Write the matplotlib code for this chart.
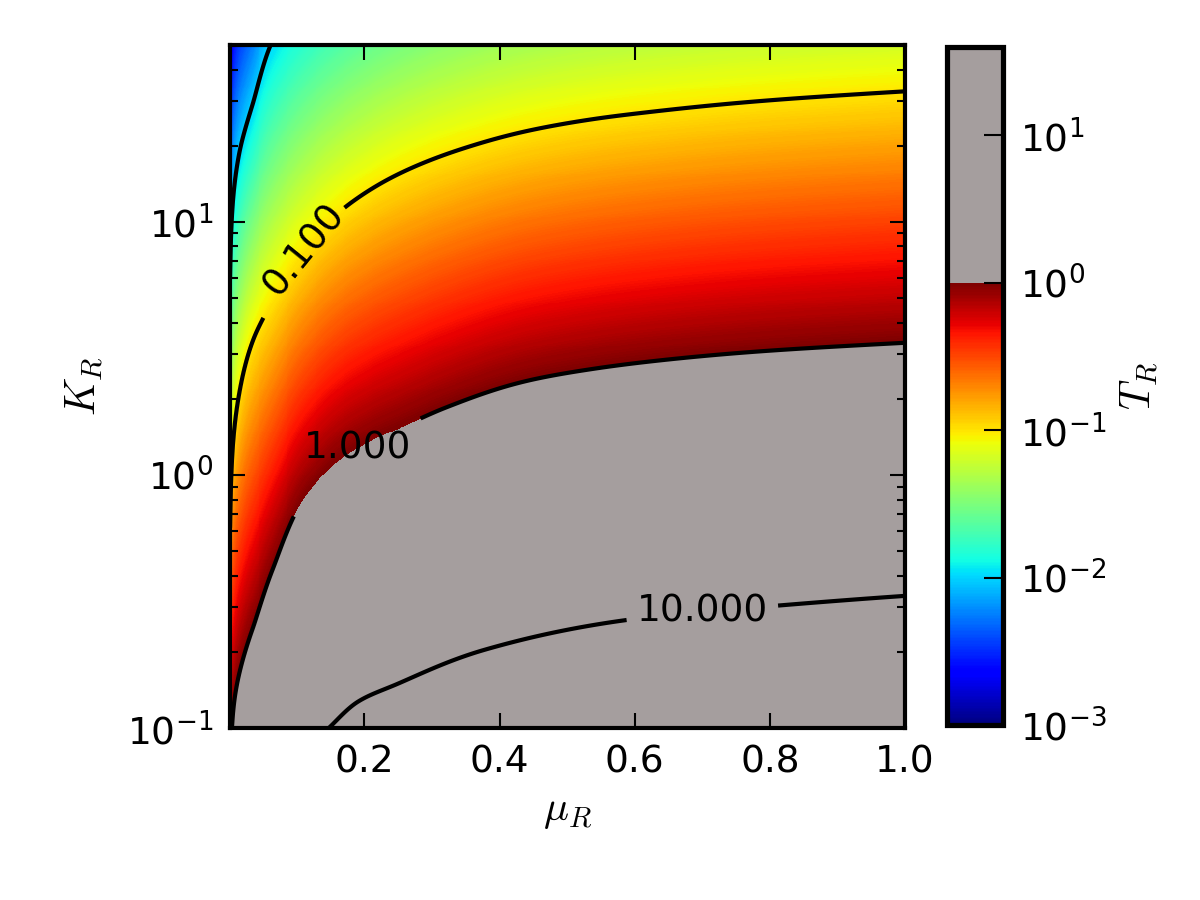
import numpy as np
import matplotlib
matplotlib.use('Agg')
import matplotlib.pyplot as plt
from matplotlib.colors import ListedColormap, LogNorm

plt.rcParams['font.family'] = 'DejaVu Sans'
plt.rcParams['mathtext.fontset'] = 'cm'
plt.rcParams['font.size'] = 16

# contour positions: (mu_R, K_R) where T_R equals each level
# (points above K=50 or below K=0.1 are estimates beyond the visible window)
levels = [0.01, 0.1, 1.0, 10.0]

mu_t001 = [0.0042, 0.014, 0.034, 0.061, 0.1, 0.2, 0.4, 0.6, 1.0]
k_t001 = [11.0, 18.3, 28.9, 49.9, 75.0, 127.0, 210.0, 263.0, 328.0]

mu_t01 = [0.0042, 0.014, 0.036, 0.056, 0.180, 0.247, 0.346, 0.445, 0.544,
          0.623, 0.771, 1.0]
k_t01 = [1.19, 2.06, 3.46, 4.47, 11.9, 15.3, 19.5, 23.0, 25.6,
         27.2, 29.8, 32.8]

mu_t1 = [0.0042, 0.034, 0.064, 0.108, 0.133, 0.158, 0.207, 0.256, 0.321, 0.445,
         0.544, 0.623, 0.771, 1.0]
k_t1 = [0.104, 0.245, 0.423, 0.79, 0.96, 1.12, 1.35, 1.55, 1.85, 2.37,
        2.64, 2.81, 3.06, 3.33]

mu_t10 = [0.0042, 0.034, 0.064, 0.108, 0.147, 0.19, 0.25, 0.378, 0.6, 0.8, 1.0]
k_t10 = [0.0104, 0.0245, 0.042, 0.079, 0.1, 0.127, 0.15, 0.204, 0.27, 0.303, 0.333]

# contour label spots (mu_R, K_R)
label_spots = [(0.115, 7.6), (0.189, 1.27), (0.70, 0.288)]

mu_lim = (0.001, 1.0)
k_lim = (0.1, 50.0)
cbar_ticks = [1e-3, 1e-2, 1e-1, 1e0, 1e1]
gray = '#a59e9e'


def pchip(x, xp, fp):
    # monotone cubic through the read points (keeps contours smooth)
    xp = np.asarray(xp, float)
    fp = np.asarray(fp, float)
    h = np.diff(xp)
    d = np.diff(fp) / h
    m = np.zeros_like(fp)
    for i in range(1, len(fp) - 1):
        if d[i - 1] * d[i] > 0:
            w1 = 2 * h[i] + h[i - 1]
            w2 = h[i] + 2 * h[i - 1]
            m[i] = (w1 + w2) / (w1 / d[i - 1] + w2 / d[i])
    m[0] = d[0]
    m[-1] = d[-1]
    xc = np.clip(x, xp[0], xp[-1])
    idx = np.clip(np.searchsorted(xp, xc) - 1, 0, len(h) - 1)
    t = (xc - xp[idx]) / h[idx]
    h00 = 2 * t**3 - 3 * t**2 + 1
    h10 = t**3 - 2 * t**2 + t
    h01 = -2 * t**3 + 3 * t**2
    h11 = t**3 - t**2
    y = h00 * fp[idx] + h10 * h[idx] * m[idx] + h01 * fp[idx + 1] + h11 * h[idx] * m[idx + 1]
    # linear continuation left of the first point
    lo = x < xp[0]
    y[lo] = fp[0] + (x[lo] - xp[0]) * m[0]
    return y


def interp_ext(x, xp, fp):
    y = np.interp(x, xp, fp)
    lo = x < xp[0]
    hi = x > xp[-1]
    y[lo] = fp[0] + (x[lo] - xp[0]) * (fp[1] - fp[0]) / (xp[1] - xp[0])
    y[hi] = fp[-1] + (x[hi] - xp[-1]) * (fp[-1] - fp[-2]) / (xp[-1] - xp[-2])
    return y


def build_field():
    mu = np.linspace(mu_lim[0], mu_lim[1], 700)
    k = np.logspace(np.log10(k_lim[0]), np.log10(k_lim[1]), 700)
    lm = np.log10(mu)
    lk = np.log10(k)
    curves = [(mu_t001, k_t001), (mu_t01, k_t01), (mu_t1, k_t1), (mu_t10, k_t10)]
    logk_at = np.array([pchip(lm, np.log10(m), np.log10(kk)) for m, kk in curves])
    logt_lv = np.log10(levels)
    T = np.empty((len(k), len(mu)))
    for j in range(len(mu)):
        xp = logk_at[::-1, j]
        fp = logt_lv[::-1]
        T[:, j] = 10 ** interp_ext(lk, xp, fp)
    return mu, k, T


def make_cmap():
    n_jet = 300
    n_gray = 160
    jet = plt.get_cmap('jet')
    cols = np.vstack([jet(np.linspace(0, 1, n_jet)),
                      np.tile(matplotlib.colors.to_rgba(gray), (n_gray, 1))])
    vmax = 10 ** (-3 + 3.0 * (n_jet + n_gray) / n_jet)
    return ListedColormap(cols), LogNorm(1e-3, vmax)


def draw(mu, k, T):
    fig = plt.figure(figsize=(8, 6), dpi=150)
    ax = fig.add_axes([0.1917, 0.191, 0.5625, 0.759])
    cax = fig.add_axes([0.789, 0.194, 0.047, 0.754])

    cmap, norm = make_cmap()
    mesh = ax.pcolormesh(mu, k, T, cmap=cmap, norm=norm, shading='auto', rasterized=True)
    cs = ax.contour(mu, k, T, levels=levels, colors='k', linewidths=2)
    texts = ax.clabel(cs, fmt='%.3f', fontsize=18, inline=True,
                      manual=label_spots, inline_spacing=10)
    for t in texts:
        if t.get_text() in ('1.000', '10.000'):
            t.set_rotation(0)

    ax.set_yscale('log')
    ax.set_xlim(*mu_lim)
    ax.set_ylim(*k_lim)
    ax.set_xticks([0.2, 0.4, 0.6, 0.8, 1.0])
    ax.tick_params(which='both', direction='in', top=True, right=True, width=1)
    ax.tick_params(which='major', length=7, labelsize=18, pad=8)
    ax.tick_params(which='minor', length=4)
    for s in ax.spines.values():
        s.set_linewidth(2)
    ax.set_xlabel(r'$\mu_R$', fontsize=20, labelpad=4)
    ax.set_ylabel(r'$K_R$', fontsize=20, labelpad=10)

    cb = fig.colorbar(mesh, cax=cax, ticks=cbar_ticks)
    cb.ax.minorticks_off()
    cb.ax.tick_params(direction='in', length=9, width=1, labelsize=18, pad=8)
    cb.outline.set_linewidth(2.5)
    cb.set_label(r'$T_R$', fontsize=20, labelpad=6)

    fig.savefig('out.png', dpi=150)


def main():
    mu, k, T = build_field()
    draw(mu, k, T)


if __name__ == '__main__':
    main()
